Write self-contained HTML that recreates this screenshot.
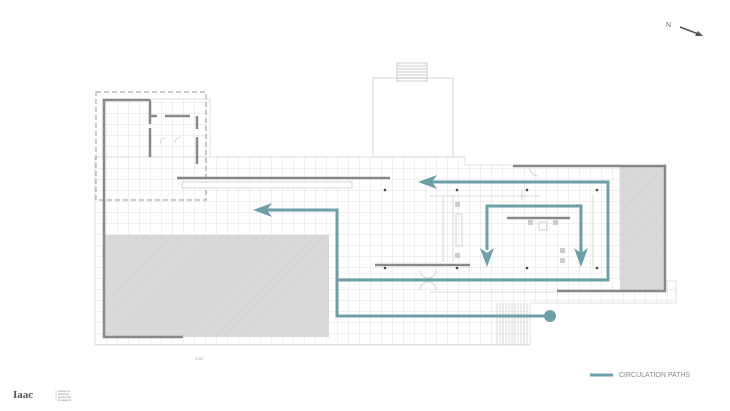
<!DOCTYPE html>
<html><head><meta charset="utf-8"><style>html,body{margin:0;padding:0;background:#fff}svg{display:block}</style></head>
<body>
<svg width="730" height="411" viewBox="0 0 730 411" xmlns="http://www.w3.org/2000/svg" font-family="Liberation Sans, sans-serif">
<defs>
<pattern id="g" x="95" y="157" width="11" height="11" patternUnits="userSpaceOnUse">
<path d="M0 0H11M0 0V11" stroke="#d8d8d8" stroke-width="0.8" fill="none"/>
</pattern>
<pattern id="h" width="6" height="6" patternUnits="userSpaceOnUse" patternTransform="rotate(45)">
<rect width="6" height="6" fill="#d9d9d9"/><path d="M0 0V6" stroke="#cfcfcf" stroke-width="1"/>
</pattern>
</defs>
<!-- grid areas -->
<g fill="url(#g)" stroke="#d8d8d8" stroke-width="0.8">
<rect x="103" y="99" width="107" height="58"/>
<polygon points="95,157 465,157 465,165 620,165 620,281 676,281 676,303 530,303 530,345 95,345"/>
</g>
<!-- upper building -->
<rect x="373" y="78" width="80" height="79" fill="none" stroke="#ccc" stroke-width="0.8"/>
<g stroke="#bbb" stroke-width="0.7"><path d="M397 63H427M397 66H427M397 69H427M397 72H427M397 75H427M397 78H427M397 81H427M397 63V82M427 63V82"/></g>
<!-- dashed toilet boundary -->
<rect x="96" y="92" width="110" height="108" fill="none" stroke="#aaa" stroke-width="1.2" stroke-dasharray="5,3"/>
<!-- pools -->
<rect x="105" y="235" width="224" height="102" fill="url(#h)"/>
<rect x="620" y="167" width="45" height="123" fill="url(#h)"/>
<!-- walls -->
<g stroke="#888" stroke-width="2.5" fill="none">
<path d="M150 100H104V337H183"/>
<path d="M150 100V124M150 128V157M165 116H190M197 116V129M197 137V164M150 116H157"/>
<path d="M177 178H390"/>
<path d="M513 166H665V291H557"/>
<path d="M375 265H470"/>
<path d="M507 218H570"/>
</g>
<rect x="182" y="182" width="170" height="6" fill="#fff" stroke="#ccc" stroke-width="0.8"/>
<g stroke="#ccc" stroke-width="0.8" fill="none">
<path d="M430 196H540M443 196V262M453 196V262M522 190V200M593 195V266M430 292H557"/>
<rect x="456" y="214" width="6" height="32"/>
<rect x="539" y="222" width="8" height="8"/>
<path d="M420 270a8 8 0 0 0 16 0M420 290a8 8 0 0 1 16 0M530 168a8 8 0 0 0 8 8M160 144a6 6 0 0 1 6 -6M175 143a6 6 0 0 1 6 -6"/>
</g>
<g fill="#ccc"><rect x="455" y="202" width="5" height="5"/><rect x="455" y="253" width="5" height="5"/><rect x="528" y="220" width="5" height="5"/><rect x="553" y="220" width="5" height="5"/><rect x="560" y="248" width="5" height="5"/><rect x="560" y="258" width="5" height="5"/></g>
<!-- stairs -->
<g stroke="#ccc" stroke-width="0.7"><path d="M497 303V345M500 303V345M503 303V345M506 303V345M509 303V345M512 303V345M515 303V345M518 303V345M521 303V345M524 303V345M527 303V345"/></g>
<!-- columns -->
<g fill="#444"><circle cx="385" cy="190" r="1.3"/><circle cx="457" cy="190" r="1.3"/><circle cx="527" cy="190" r="1.3"/><circle cx="597" cy="190" r="1.3"/><circle cx="385" cy="268" r="1.3"/><circle cx="457" cy="268" r="1.3"/><circle cx="527" cy="268" r="1.3"/><circle cx="597" cy="268" r="1.3"/></g>
<text x="195" y="360" font-size="4" fill="#999">3.40</text>
<!-- circulation paths -->
<g stroke="#6d9fa9" stroke-width="3" fill="none" stroke-linejoin="miter">
<path d="M428 182H608V280H337V210H266"/>
<path d="M337 280V316H548"/>
<path d="M487 250V206H581V255"/>
</g>
<g fill="#6d9fa9">
<polygon points="418,182 437,175 432,182 437,189"/>
<polygon points="253,210 272,203 267,210 272,217"/>
<polygon points="487,267 480,248 487,253 494,248"/>
<polygon points="581,267 574,248 581,253 588,248"/>
<circle cx="550" cy="316" r="6"/>
</g>
<!-- north -->
<text x="666" y="27" font-size="7" fill="#666">N</text>
<path d="M680 27L701 35" stroke="#555" stroke-width="1.5"/>
<polygon points="703,36 695,36 698,31" fill="#555"/>
<!-- legend -->
<path d="M590 375H613" stroke="#6d9fa9" stroke-width="3"/>
<text x="619" y="377" font-size="7" fill="#888">CIRCULATION PATHS</text>
<!-- logo -->
<text x="13" y="398" font-size="11" font-weight="bold" font-family="Liberation Serif, serif" fill="#555">Iaac</text>
<path d="M56 389V401" stroke="#ccc" stroke-width="0.5"/>
<g font-size="2.5" fill="#888"><text x="58" y="392">institute for</text><text x="58" y="395">advanced</text><text x="58" y="398">architecture</text><text x="58" y="401">of catalonia</text></g>
</svg>
</body></html>
